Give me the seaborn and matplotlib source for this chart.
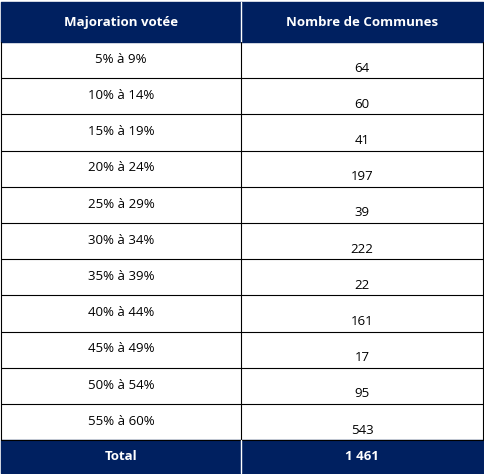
import matplotlib
matplotlib.use("Agg")
import matplotlib.pyplot as plt
import seaborn as sns
import numpy as np

sns.set_style("white")
plt.rcParams['font.family'] = ['Open Sans', 'DejaVu Sans']
plt.rcParams['text.color'] = 'black'

headers = ["Majoration votée", "Nombre de Communes"]
tranches = ["5% à 9%", "10% à 14%", "15% à 19%", "20% à 24%", "25% à 29%", "30% à 34%",
            "35% à 39%", "40% à 44%", "45% à 49%", "50% à 54%", "55% à 60%"]
communes = [64, 60, 41, 197, 39, 222, 22, 161, 17, 95, 543]
total_label = "Total"
total_value = "1 461"

navy = "#002060"
fig = plt.figure(figsize=(4.85, 4.74), dpi=100)
ax = fig.add_axes([0, 0, 1, 1])
ax.set_xlim(0, 485)
ax.set_ylim(474, 0)
ax.axis("off")

x0, xm, x1 = 1.5, 241, 483.5
head_top, head_bot = 2, 42
row_h = 36.2
n = len(tranches)
total_top = head_bot + n * row_h
total_bot = 473
fs = 9.5

# header
ax.fill_between([x0, x1], head_top, head_bot, color=navy)
ax.text((x0 + xm) / 2, (head_top + head_bot) / 2, headers[0], color="white",
        fontweight="bold", ha="center", va="center", fontsize=fs)
ax.text((xm + x1) / 2, (head_top + head_bot) / 2, headers[1], color="white",
        fontweight="bold", ha="center", va="center", fontsize=fs)
ax.plot([xm, xm], [head_top, head_bot], color="white", lw=1)

# body rows
for i, (t, c) in enumerate(zip(tranches, communes)):
    top = head_bot + i * row_h
    bot = top + row_h
    ax.text((x0 + xm) / 2, top + row_h * 0.48, t, ha="center", va="center", fontsize=fs)
    ax.text((xm + x1) / 2, top + row_h * 0.72, str(c), ha="center", va="center", fontsize=fs)
    ax.plot([x0, x1], [bot, bot], color="black", lw=0.8)
ax.plot([x0, x0], [head_bot, total_top], color="black", lw=0.8)
ax.plot([xm, xm], [head_bot, total_top], color="black", lw=0.8)
ax.plot([x1, x1], [head_bot, total_top], color="black", lw=0.8)

# total row
ax.fill_between([x0, x1], total_top, total_bot, color=navy)
ax.plot([xm, xm], [total_top, total_bot], color="white", lw=1)
ax.text((x0 + xm) / 2, (total_top + total_bot) / 2, total_label, color="white",
        fontweight="bold", ha="center", va="center", fontsize=fs)
ax.text((xm + x1) / 2, (total_top + total_bot) / 2, total_value, color="white",
        fontweight="bold", ha="center", va="center", fontsize=fs)

fig.savefig("out.png", dpi=100, facecolor="white")
